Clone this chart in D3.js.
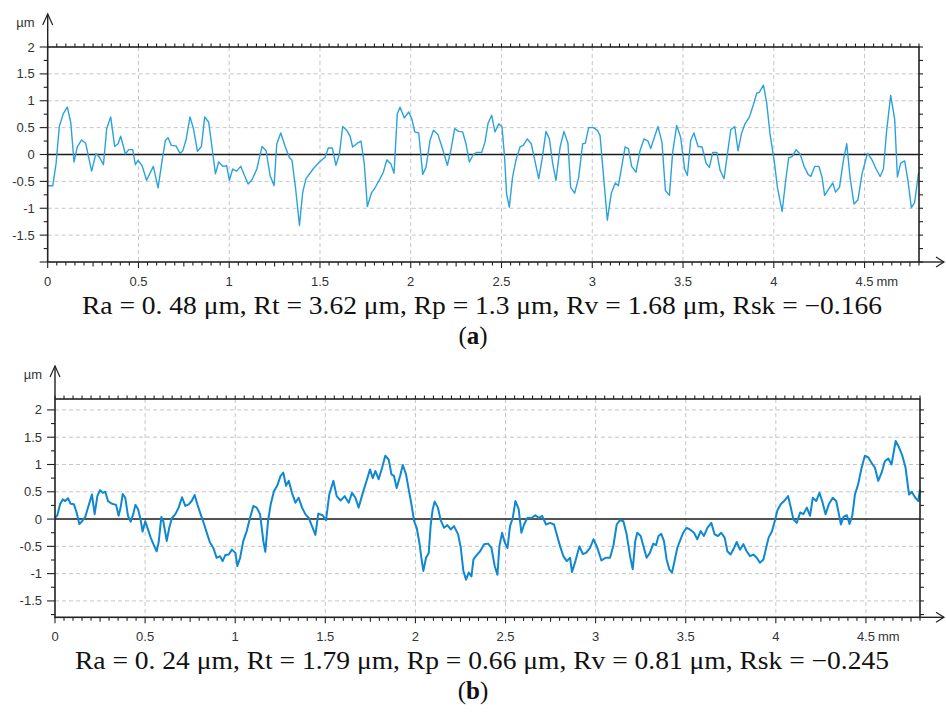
<!DOCTYPE html>
<html>
<head>
<meta charset="utf-8">
<script src="https://cdn.jsdelivr.net/npm/d3@7"></script>
<style>
  body { margin: 0; background: #fff; }
  svg { display: block; }
  .lbl { font-family: "Liberation Sans", Arial, sans-serif; font-size: 13px; fill: #333; }
  .cap { font-family: "Liberation Serif", "Times New Roman", serif; font-size: 25px; fill: #111; }
</style>
</head>
<body>
<svg id="chart" width="946" height="716"></svg>
<script>
// profile (a): [position mm, height µm]
const profileA = [
  [0,-0.58],[0.028,-0.58],[0.046,-0.17],[0.064,0.52],[0.086,0.76],[0.108,0.88],[0.127,0.60],[0.145,-0.14],
  [0.163,0.14],[0.187,0.27],[0.209,0.21],[0.242,-0.31],[0.266,0.02],[0.285,-0.05],[0.307,-0.19],[0.325,0.48],
  [0.347,0.70],[0.369,0.15],[0.388,0.20],[0.402,0.34],[0.428,0.01],[0.446,0.09],[0.468,0.09],[0.483,-0.19],
  [0.498,-0.11],[0.520,-0.21],[0.545,-0.48],[0.582,-0.22],[0.608,-0.62],[0.630,-0.12],[0.648,0.26],[0.663,0.31],
  [0.681,0.17],[0.707,0.16],[0.729,0.02],[0.744,0.07],[0.762,0.27],[0.784,0.70],[0.803,0.48],[0.825,0.06],
  [0.847,0.15],[0.865,0.70],[0.887,0.60],[0.924,-0.36],[0.942,-0.14],[0.964,-0.22],[0.986,-0.21],[1.001,-0.48],
  [1.019,-0.27],[1.041,-0.31],[1.063,-0.22],[1.104,-0.55],[1.126,-0.47],[1.152,-0.27],[1.181,0.15],[1.203,0.07],
  [1.225,-0.39],[1.247,-0.58],[1.262,0.20],[1.284,0.40],[1.309,0.14],[1.331,-0.05],[1.346,-0.11],[1.365,-0.61],
  [1.387,-1.32],[1.405,-0.70],[1.423,-0.45],[1.464,-0.26],[1.500,-0.13],[1.528,-0.05],[1.546,0.12],[1.568,0.12],
  [1.588,-0.20],[1.607,0.01],[1.625,0.52],[1.647,0.45],[1.666,0.34],[1.680,0.14],[1.706,0.21],[1.726,0.25],
  [1.744,-0.17],[1.761,-0.97],[1.783,-0.72],[1.805,-0.61],[1.831,-0.45],[1.849,-0.33],[1.868,-0.10],[1.890,-0.17],
  [1.908,-0.35],[1.926,0.76],[1.941,0.88],[1.965,0.68],[1.989,0.79],[2.007,0.65],[2.022,0.42],[2.044,0.40],
  [2.066,-0.37],[2.084,-0.24],[2.106,0.26],[2.125,0.45],[2.150,0.37],[2.172,0.14],[2.202,-0.20],[2.220,0.06],
  [2.242,0.48],[2.264,0.43],[2.286,0.42],[2.305,0.19],[2.323,-0.14],[2.345,0.00],[2.364,0.04],[2.391,0.04],
  [2.409,0.23],[2.426,0.58],[2.446,0.73],[2.464,0.42],[2.485,0.57],[2.503,0.51],[2.517,-0.05],[2.528,-0.73],
  [2.543,-0.98],[2.561,-0.42],[2.580,-0.10],[2.602,0.14],[2.620,0.17],[2.642,0.29],[2.664,0.20],[2.683,-0.10],
  [2.705,-0.45],[2.723,-0.10],[2.745,0.43],[2.764,0.29],[2.782,-0.17],[2.800,-0.48],[2.823,0.14],[2.844,0.43],
  [2.866,0.21],[2.881,-0.61],[2.903,-0.72],[2.925,-0.43],[2.947,0.20],[2.962,0.21],[2.980,0.50],[3.006,0.50],
  [3.028,0.45],[3.043,0.35],[3.061,-0.36],[3.083,-1.22],[3.105,-0.72],[3.127,-0.53],[3.144,-0.58],[3.181,0.14],
  [3.199,0.11],[3.217,-0.22],[3.241,-0.33],[3.263,0.07],[3.285,0.29],[3.307,0.25],[3.322,0.11],[3.344,0.34],
  [3.362,0.52],[3.384,0.23],[3.403,-0.67],[3.425,-0.76],[3.443,0.04],[3.465,0.54],[3.487,0.32],[3.509,-0.27],
  [3.524,-0.39],[3.542,0.26],[3.560,0.40],[3.583,0.15],[3.605,0.14],[3.627,-0.16],[3.645,-0.24],[3.664,0.04],
  [3.686,0.04],[3.704,-0.29],[3.726,-0.45],[3.745,0.02],[3.763,0.46],[3.785,0.52],[3.803,0.07],[3.822,0.39],
  [3.840,0.56],[3.866,0.70],[3.888,0.93],[3.906,1.14],[3.921,1.16],[3.943,1.29],[3.961,0.96],[3.979,0.39],
  [4.002,-0.11],[4.020,-0.61],[4.046,-1.06],[4.064,-0.53],[4.082,-0.06],[4.101,-0.04],[4.123,0.09],[4.145,0.01],
  [4.167,-0.22],[4.189,-0.37],[4.204,-0.41],[4.226,-0.22],[4.248,-0.22],[4.266,-0.42],[4.280,-0.76],[4.303,-0.64],
  [4.325,-0.53],[4.340,-0.70],[4.362,-0.61],[4.384,-0.10],[4.402,0.20],[4.420,-0.42],[4.442,-0.92],[4.464,-0.84],
  [4.486,-0.36],[4.516,0.02],[4.538,-0.08],[4.564,-0.27],[4.586,-0.41],[4.604,-0.27],[4.622,0.45],[4.644,1.10],
  [4.666,0.66],[4.681,-0.42],[4.699,-0.16],[4.721,-0.12],[4.739,-0.48],[4.758,-0.99],[4.776,-0.89],[4.798,-0.33]
];

// profile (b)
const profileB = [
  [0,0.02],[0.013,0.07],[0.028,0.27],[0.043,0.36],[0.057,0.33],[0.072,0.38],[0.087,0.28],[0.105,0.27],
  [0.120,0.12],[0.135,-0.09],[0.150,-0.04],[0.168,0.04],[0.183,0.21],[0.205,0.45],[0.220,0.09],[0.235,0.42],
  [0.250,0.53],[0.265,0.48],[0.279,0.50],[0.294,0.33],[0.316,0.28],[0.339,0.26],[0.353,0.06],[0.364,0.21],
  [0.376,0.46],[0.390,0.39],[0.405,0.06],[0.420,-0.05],[0.435,0.10],[0.446,0.26],[0.461,0.18],[0.475,-0.01],
  [0.486,-0.23],[0.501,-0.04],[0.516,-0.19],[0.531,-0.34],[0.546,-0.46],[0.564,-0.59],[0.575,-0.43],[0.590,0.04],
  [0.601,-0.04],[0.620,-0.40],[0.634,-0.16],[0.649,0.02],[0.668,0.09],[0.686,0.21],[0.705,0.40],[0.723,0.24],
  [0.742,0.27],[0.760,0.34],[0.775,0.44],[0.790,0.27],[0.808,0.09],[0.827,-0.09],[0.845,-0.28],[0.860,-0.43],
  [0.879,-0.53],[0.897,-0.71],[0.916,-0.68],[0.930,-0.77],[0.945,-0.66],[0.964,-0.65],[0.982,-0.56],[1.001,-0.62],
  [1.012,-0.86],[1.027,-0.71],[1.045,-0.40],[1.064,-0.22],[1.082,0.02],[1.101,0.24],[1.119,0.21],[1.138,0.09],
  [1.156,-0.40],[1.167,-0.60],[1.182,-0.04],[1.197,0.27],[1.215,0.51],[1.234,0.62],[1.252,0.79],[1.267,0.85],
  [1.282,0.61],[1.297,0.70],[1.315,0.48],[1.334,0.30],[1.352,0.39],[1.371,0.21],[1.389,0.09],[1.408,0.02],
  [1.426,-0.13],[1.445,-0.29],[1.461,0.10],[1.485,0.07],[1.504,-0.02],[1.522,0.45],[1.545,0.70],[1.563,0.42],
  [1.585,0.34],[1.608,0.42],[1.630,0.30],[1.648,0.48],[1.667,0.39],[1.685,0.21],[1.708,0.48],[1.730,0.71],
  [1.748,0.91],[1.763,0.75],[1.778,0.88],[1.796,0.73],[1.815,0.94],[1.833,1.16],[1.852,1.09],[1.867,0.82],
  [1.881,0.79],[1.896,0.57],[1.915,0.79],[1.930,0.99],[1.948,0.82],[1.963,0.54],[1.978,0.27],[1.993,-0.04],
  [2.007,-0.16],[2.022,-0.43],[2.033,-0.71],[2.044,-0.95],[2.059,-0.71],[2.074,-0.62],[2.085,-0.10],[2.096,0.18],
  [2.107,0.32],[2.125,0.21],[2.140,-0.02],[2.159,-0.16],[2.177,-0.11],[2.196,-0.19],[2.214,-0.13],[2.237,-0.28],
  [2.252,-0.53],[2.266,-0.95],[2.281,-1.11],[2.296,-0.98],[2.311,-1.05],[2.322,-0.74],[2.340,-0.66],[2.359,-0.59],
  [2.381,-0.46],[2.403,-0.45],[2.422,-0.53],[2.440,-0.86],[2.455,-1.02],[2.466,-0.50],[2.481,-0.25],[2.496,-0.43],
  [2.511,-0.53],[2.525,-0.13],[2.540,0.02],[2.555,0.33],[2.573,0.18],[2.588,-0.25],[2.603,-0.10],[2.621,0.02],
  [2.644,0.02],[2.666,0.07],[2.684,0.02],[2.703,0.06],[2.725,-0.10],[2.747,-0.07],[2.769,-0.10],[2.784,-0.28],
  [2.803,-0.50],[2.821,-0.68],[2.840,-0.77],[2.858,-0.71],[2.869,-0.97],[2.888,-0.77],[2.910,-0.50],[2.929,-0.64],
  [2.947,-0.62],[2.969,-0.53],[2.988,-0.37],[3.010,-0.53],[3.032,-0.76],[3.054,-0.71],[3.080,-0.71],[3.099,-0.48],
  [3.117,-0.10],[3.135,-0.02],[3.154,-0.04],[3.172,-0.28],[3.191,-0.68],[3.206,-0.92],[3.220,-0.40],[3.231,-0.25],
  [3.250,-0.31],[3.268,-0.53],[3.283,-0.71],[3.301,-0.62],[3.320,-0.45],[3.335,-0.48],[3.349,-0.31],[3.364,-0.27],
  [3.379,-0.40],[3.394,-0.74],[3.409,-0.92],[3.424,-0.98],[3.438,-0.77],[3.453,-0.53],[3.468,-0.40],[3.486,-0.25],
  [3.505,-0.16],[3.523,-0.19],[3.546,-0.25],[3.564,-0.37],[3.583,-0.22],[3.601,-0.31],[3.620,-0.16],[3.642,-0.07],
  [3.660,-0.28],[3.679,-0.31],[3.697,-0.25],[3.716,-0.34],[3.731,-0.59],[3.749,-0.65],[3.768,-0.53],[3.783,-0.42],
  [3.801,-0.56],[3.820,-0.46],[3.838,-0.59],[3.857,-0.68],[3.875,-0.65],[3.894,-0.71],[3.912,-0.80],[3.931,-0.74],
  [3.946,-0.53],[3.960,-0.34],[3.979,-0.22],[3.994,-0.04],[4.009,0.16],[4.027,0.27],[4.046,0.33],[4.068,0.42],
  [4.083,0.21],[4.098,-0.01],[4.116,-0.07],[4.135,0.12],[4.153,0.09],[4.172,0.21],[4.190,0.06],[4.205,0.39],
  [4.224,0.33],[4.242,0.48],[4.257,0.33],[4.276,0.09],[4.294,0.27],[4.316,0.39],[4.335,0.33],[4.350,0.09],
  [4.361,-0.10],[4.376,0.04],[4.394,0.07],[4.409,-0.09],[4.424,0.06],[4.439,0.45],[4.457,0.64],[4.476,0.94],
  [4.494,1.16],[4.513,1.13],[4.531,1.03],[4.550,0.94],[4.568,0.70],[4.587,0.85],[4.605,1.06],[4.624,1.11],
  [4.642,1.00],[4.665,1.43],[4.683,1.32],[4.702,1.16],[4.720,0.94],[4.739,0.45],[4.754,0.50],[4.772,0.40],
  [4.791,0.33],[4.800,0.55]
];

const xTicks = [0, 0.5, 1, 1.5, 2, 2.5, 3, 3.5, 4, 4.5];
const xTickLabels = ['0', '0.5', '1', '1.5', '2', '2.5', '3', '3.5', '4', '4.5'];
const yTicks = [-1.5, -1, -0.5, 0, 0.5, 1, 1.5, 2];
const yTickLabels = ['-1.5', '-1', '-0.5', '0', '0.5', '1', '1.5', '2'];
const captionA = 'Ra = 0. 48 μm, Rt = 3.62 μm, Rp = 1.3 μm, Rv = 1.68 μm, Rsk = −0.166';
const captionB = 'Ra = 0. 24 μm, Rt = 1.79 μm, Rp = 0.66 μm, Rv = 0.81 μm, Rsk = −0.245';

const svg = d3.select('#chart');
const axisColor = '#222';

function drawPanel(p) {
  const g = svg.append('g');
  const x = d3.scaleLinear([0, 4.8], [p.left, p.right]);
  const y = d3.scaleLinear(p.yDomain, [p.bottom, p.top]);

  // dashed grid
  g.selectAll('.vg').data(xTicks.filter(d => d > 0)).join('line')
    .attr('x1', d => x(d)).attr('x2', d => x(d))
    .attr('y1', p.top).attr('y2', p.bottom)
    .attr('stroke', '#c6c6c6').attr('stroke-dasharray', '4,3');
  g.selectAll('.hg').data(yTicks.filter(d => d !== 0 && y(d) > p.top + 2)).join('line')
    .attr('x1', p.left).attr('x2', p.right)
    .attr('y1', d => y(d)).attr('y2', d => y(d))
    .attr('stroke', '#c6c6c6').attr('stroke-dasharray', '4,3');

  // zero line
  g.append('line').attr('x1', p.left).attr('x2', p.right)
    .attr('y1', y(0)).attr('y2', y(0))
    .attr('stroke', '#1a1a1a').attr('stroke-width', 1.4);

  // profile
  const line = d3.line().x(d => x(d[0])).y(d => y(d[1]));
  g.append('path').datum(p.data)
    .attr('d', line).attr('fill', 'none')
    .attr('stroke', p.color).attr('stroke-width', p.width)
    .attr('stroke-linejoin', 'round');

  // box
  g.append('rect').attr('x', p.left).attr('y', p.top)
    .attr('width', p.right - p.left).attr('height', p.bottom - p.top)
    .attr('fill', 'none').attr('stroke', axisColor).attr('stroke-width', 1.6);

  // y axis up to arrow
  const tip = p.top - 33;
  g.append('line').attr('x1', p.left).attr('x2', p.left).attr('y1', p.top).attr('y2', tip)
    .attr('stroke', axisColor).attr('stroke-width', 1.4);
  g.append('path').attr('d', `M${p.left - 5},${tip + 11}L${p.left},${tip}L${p.left + 5},${tip + 11}`)
    .attr('fill', 'none').attr('stroke', axisColor).attr('stroke-width', 1.2);

  // x axis out to arrow
  g.append('line').attr('x1', p.right).attr('x2', 944).attr('y1', p.bottom).attr('y2', p.bottom)
    .attr('stroke', axisColor).attr('stroke-width', 1.4);
  g.append('path').attr('d', `M936,${p.bottom - 5}L944,${p.bottom}L936,${p.bottom + 5}`)
    .attr('fill', 'none').attr('stroke', axisColor).attr('stroke-width', 1.2);

  // minor ticks along x (top: up, bottom: down)
  const xMinor = d3.range(0, 4.8001, 0.05).map(v => +v.toFixed(2));
  const xLen = v => (Math.abs(v * 2 - Math.round(v * 2)) < 1e-6 ? 6 : (Math.abs(v * 4 - Math.round(v * 4)) < 1e-6 ? 4.5 : 3.5));
  g.selectAll('.tb').data(xMinor).join('line')
    .attr('x1', d => x(d)).attr('x2', d => x(d))
    .attr('y1', p.bottom).attr('y2', d => p.bottom + xLen(d))
    .attr('stroke', axisColor).attr('stroke-width', 1.1);
  g.selectAll('.tt').data(xMinor).join('line')
    .attr('x1', d => x(d)).attr('x2', d => x(d))
    .attr('y1', p.top).attr('y2', p.top - 3.5)
    .attr('stroke', axisColor).attr('stroke-width', 1.1);

  // y ticks (left: out, right: out)
  const yMinor = d3.range(Math.ceil(p.yDomain[0] * 4), Math.floor(p.yDomain[1] * 4) + 1).map(k => k / 4);
  g.selectAll('.tl').data(yMinor).join('line')
    .attr('x1', p.left).attr('x2', d => p.left - (Math.abs(d * 2 - Math.round(d * 2)) < 1e-6 ? 8 : 4))
    .attr('y1', d => y(d)).attr('y2', d => y(d))
    .attr('stroke', axisColor).attr('stroke-width', 1.1);
  g.selectAll('.tr').data(yMinor).join('line')
    .attr('x1', p.right).attr('x2', p.right + 4)
    .attr('y1', d => y(d)).attr('y2', d => y(d))
    .attr('stroke', axisColor).attr('stroke-width', 1.1);

  // tick labels
  g.selectAll('.xl').data(xTicks).join('text').attr('class', 'lbl')
    .attr('x', d => x(d)).attr('y', p.bottom + 24)
    .attr('text-anchor', 'middle').text((d, i) => xTickLabels[i]);
  g.append('text').attr('class', 'lbl').attr('x', x(4.5) + 12).attr('y', p.bottom + 24).text('mm');
  g.selectAll('.yl').data(yTicks).join('text').attr('class', 'lbl')
    .attr('x', p.left - 13).attr('y', d => y(d) + 4.5)
    .attr('text-anchor', 'end').text((d, i) => yTickLabels[i]);
  g.append('text').attr('class', 'lbl').attr('x', p.left - 13).attr('y', p.top - 20)
    .attr('text-anchor', 'end').text('µm');

  // caption
  g.append('text').attr('class', 'cap').attr('x', p.capX).attr('y', p.bottom + 52)
    .attr('text-anchor', 'middle').attr('textLength', p.capLen).attr('lengthAdjust', 'spacingAndGlyphs')
    .text(p.caption);
  const lab = g.append('text').attr('class', 'cap').attr('x', 473).attr('y', p.bottom + 82)
    .attr('text-anchor', 'middle');
  lab.append('tspan').text('(');
  lab.append('tspan').attr('font-weight', 'bold').text(p.tag);
  lab.append('tspan').text(')');
}

drawPanel({ data: profileA, left: 47.7, right: 919, top: 47, bottom: 262, yDomain: [-2, 2],
  color: '#2ba2dc', width: 1.4, caption: captionA, capX: 482, capLen: 800, tag: 'a' });
drawPanel({ data: profileB, left: 55, right: 920, top: 399, bottom: 617.3, yDomain: [-1.8, 2.2],
  color: '#0e88d0', width: 2, caption: captionB, capX: 482, capLen: 814, tag: 'b' });
</script>
</body>
</html>
